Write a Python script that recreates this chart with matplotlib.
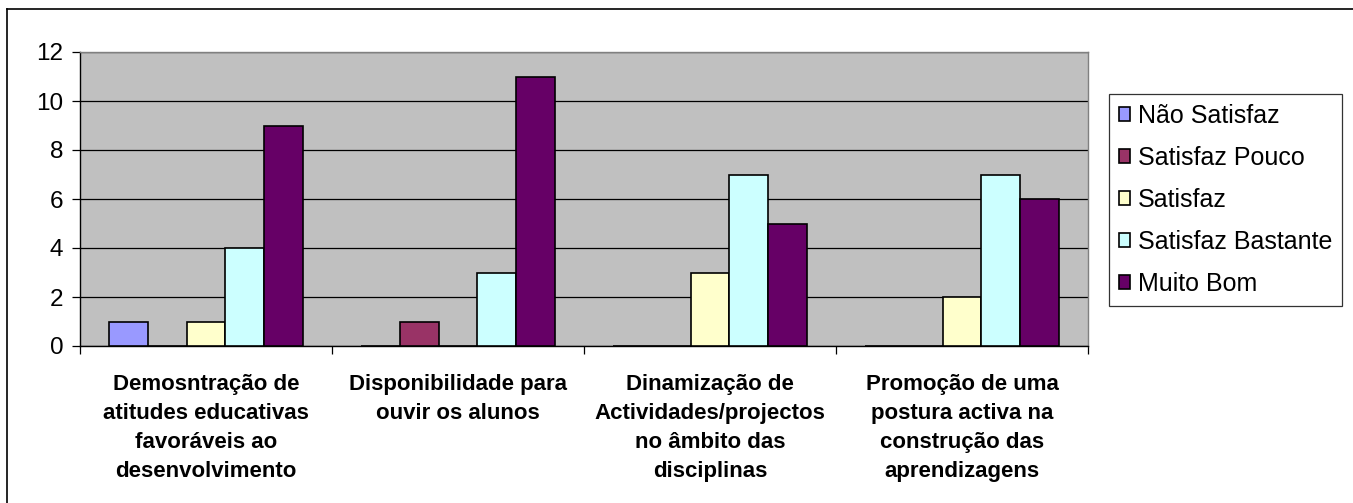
import numpy as np
import matplotlib
matplotlib.use("Agg")
import matplotlib.pyplot as plt
from matplotlib.lines import Line2D

plt.rcParams["font.family"] = ["Liberation Sans", "DejaVu Sans"]

categories = [
    "Demosntração de\natitudes educativas\nfavoráveis ao\ndesenvolvimento",
    "Disponibilidade para\nouvir os alunos",
    "Dinamização de\nActividades/projectos\nno âmbito das\ndisciplinas",
    "Promoção de uma\npostura activa na\nconstrução das\naprendizagens",
]
series_names = ["Não Satisfaz", "Satisfaz Pouco", "Satisfaz", "Satisfaz Bastante", "Muito Bom"]
nao_satisfaz = [1, 0, 0, 0]
satisfaz_pouco = [0, 1, 0, 0]
satisfaz = [1, 0, 3, 2]
satisfaz_bastante = [4, 3, 7, 7]
muito_bom = [9, 11, 5, 6]
colors = ["#9999FF", "#993366", "#FFFFCC", "#CCFFFF", "#660066"]

values = [nao_satisfaz, satisfaz_pouco, satisfaz, satisfaz_bastante, muito_bom]

W, H = 1353, 503
fig = plt.figure(figsize=(W / 100, H / 100), dpi=100)
ax = fig.add_axes([80 / W, 1 - 346 / H, (1088 - 80) / W, (346 - 52) / H])
ax.set_facecolor("#C0C0C0")

x = np.arange(len(categories))
bw = 1 / 6.5
for i, (name, vals) in enumerate(zip(series_names, values)):
    pos = x + (i - 2) * bw
    ax.bar(pos, vals, width=bw, color=colors[i], edgecolor="black",
           linewidth=1.2, label=name, zorder=3)

ax.set_xlim(-0.5, len(categories) - 0.5)
ax.set_ylim(0, 12)
ax.set_yticks(range(0, 13, 2))
ax.yaxis.grid(True, color="black", linewidth=0.9, zorder=1)
ax.set_axisbelow(True)

ax.set_xticks(x)
ax.set_xticklabels(categories, fontsize=16, fontweight="bold", linespacing=1.5)
ax.set_xticks(np.arange(-0.5, len(categories)), minor=True)
ax.tick_params(axis="x", which="major", length=0, pad=20)
ax.tick_params(axis="x", which="minor", length=6, width=0.9, direction="out")
ax.tick_params(axis="y", length=6, width=0.9, direction="out", labelsize=17.5, pad=6)

for side in ["top", "right"]:
    ax.spines[side].set_color("#808080")
for side in ["left", "bottom"]:
    ax.spines[side].set_color("black")
for s in ax.spines.values():
    s.set_linewidth(1.0)

leg = ax.legend(loc="upper left", bbox_to_anchor=(1109 / W, 1 - 94 / H),
                bbox_transform=fig.transFigure, fontsize=18, frameon=True,
                fancybox=False, edgecolor="black", handlelength=0.45,
                handleheight=0.45, handletextpad=0.3, labelspacing=0.72,
                borderpad=0.4, borderaxespad=0)
leg.get_frame().set_linewidth(0.9)

# outer chart frame
fig.add_artist(Line2D([7 / W, 7 / W], [0, 1 - 9 / H], transform=fig.transFigure,
                      color="black", linewidth=1.2))
fig.add_artist(Line2D([7 / W, 1], [1 - 9 / H, 1 - 9 / H], transform=fig.transFigure,
                      color="black", linewidth=1.2))

fig.savefig("out.png", dpi=100)
